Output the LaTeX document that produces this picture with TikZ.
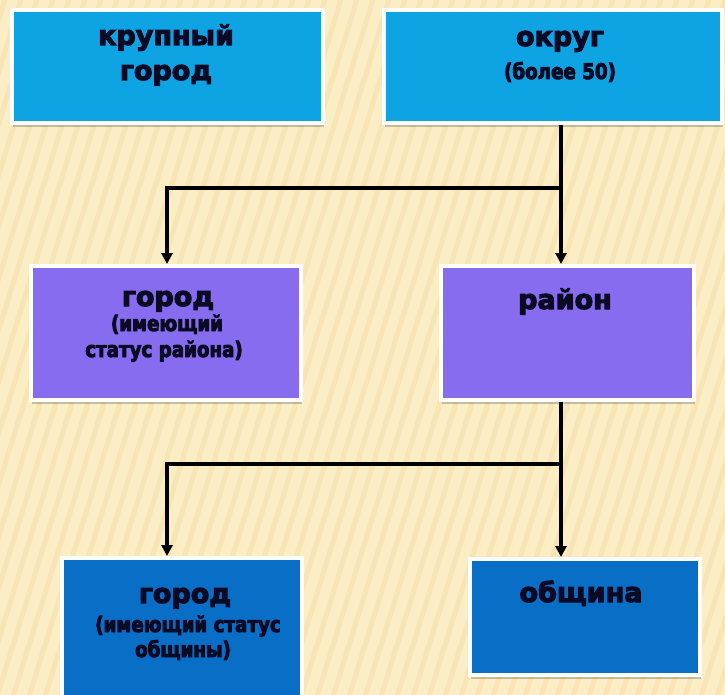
\documentclass[tikz,border=0pt]{standalone}
\usepackage{fontspec}
\setmainfont{DejaVu Sans}
\newfontfamily\heavyfont{DejaVu Sans}[BoldFeatures={FakeBold=4}]
\newfontfamily\heavynarrow{DejaVu Sans}[BoldFeatures={FakeBold=4,FakeStretch=0.85}]
\usetikzlibrary{arrows.meta,shadows}
\definecolor{bgbase}{RGB}{252,238,196}
\definecolor{bgstripe}{RGB}{238,214,156}
\definecolor{cyanC}{RGB}{14,164,228}
\definecolor{violetC}{RGB}{136,108,240}
\definecolor{blueC}{RGB}{8,110,198}
\definecolor{inkC}{RGB}{10,10,36}
\tikzset{
  boxbase/.style={draw=white, line width=4pt, inner sep=0pt,
    drop shadow={shadow xshift=1pt, shadow yshift=-4pt, opacity=0.3, fill=black!70}},
  conn/.style={line width=3.4pt, draw=black},
  arr/.style={conn, -{Triangle[length=11pt,width=11pt]}},
  big/.style={font=\heavyfont\bfseries\fontsize{27}{30}\selectfont, text=inkC, anchor=base, inner sep=0pt},
  small/.style={font=\heavynarrow\bfseries\fontsize{21.5}{24}\selectfont, text=inkC, anchor=base, inner sep=0pt},
}
\begin{document}
\begin{tikzpicture}[x=1pt,y=-1pt]
\useasboundingbox (0,0) rectangle (725,695);
\begin{scope}
\clip (0,0) rectangle (725,695);
\fill[bgbase] (0,0) rectangle (725,695);
\foreach \i in {-260,-244,...,740}
  \draw[bgstripe, line width=5pt, opacity=0.35] (\i,700) -- ++(220,-710);
\end{scope}
% boxes
\begin{scope}
\clip (0,0) rectangle (725,695);
\node[boxbase, fill=cyanC, minimum width=311pt, minimum height=113pt] (b1) at (167.5,66.5) {};
\node[boxbase, fill=cyanC, minimum width=338pt, minimum height=113pt] (b2) at (553,66.5) {};
\node[boxbase, fill=violetC, minimum width=270pt, minimum height=134pt] (b3) at (166,333) {};
\node[boxbase, fill=violetC, minimum width=253pt, minimum height=134pt] (b4) at (567.5,333) {};
\node[boxbase, fill=blueC, minimum width=240pt, minimum height=147pt] (b5) at (182,631.5) {};
\node[boxbase, fill=blueC, minimum width=230pt, minimum height=116pt] (b6) at (585,617) {};
\end{scope}
% texts
\node[big] (t1a) at (166,45) {крупный};
\node[big] (t1b) at (166,80) {город};
\node[big] (t2a) at (560,46) {округ};
\node[small] (t2b) at (560,79) {(более 50)};
\node[big] (t3a) at (168,306) {город};
\node[small] (t3b) at (167,331) {(имеющий};
\node[small] (t3c) at (164,357) {статус района)};
\node[big] (t4a) at (565,309) {район};
\node[big] (t5a) at (185,603) {город};
\node[small] (t5b) at (188,632) {(имеющий статус};
\node[small] (t5c) at (183,657) {общины)};
\node[big] (t6a) at (581,602) {община};
% connectors
\coordinate (j1) at (561,188);
\coordinate (k1) at (167,188);
\coordinate (j2) at (561,464);
\coordinate (k2) at (167,464);
\draw[arr] (b2.south -| j1) -- (j1 |- b4.north);
\draw[arr] (j1) -- (k1) -- (k1 |- b3.north);
\draw[arr] (b4.south -| j2) -- (j2 |- b6.north);
\draw[arr] (j2) -- (k2) -- (k2 |- b5.north);
\end{tikzpicture}
\end{document}
